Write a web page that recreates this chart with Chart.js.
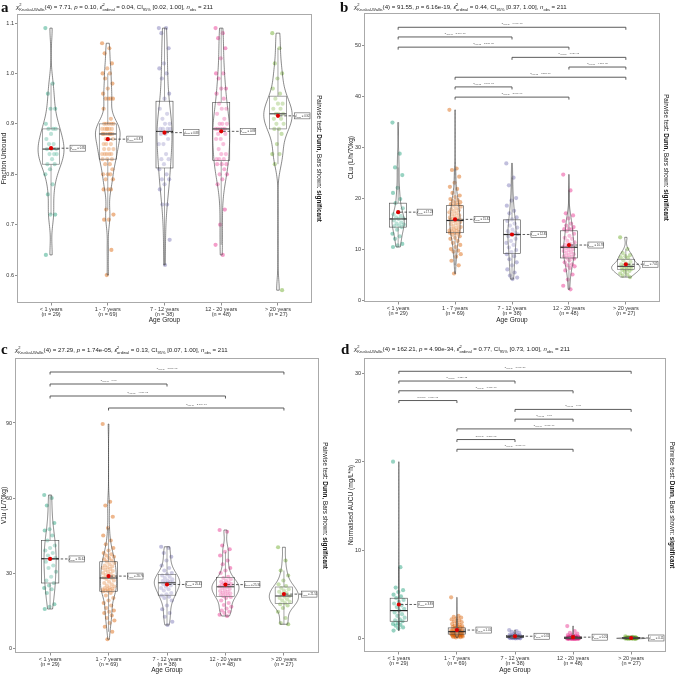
<!DOCTYPE html>
<html>
<head>
<meta charset="utf-8">
<script src="https://cdn.jsdelivr.net/npm/chart.js@4.4.1/dist/chart.umd.min.js"></script>
<style>
body { margin: 0; background: #fff; width: 676px; height: 674px; position: relative; overflow: hidden; }
canvas { position: absolute; }
</style>
</head>
<body>
<canvas id="ca" width="338" height="330" style="left:0;top:0"></canvas>
<canvas id="cb" width="338" height="330" style="left:338px;top:0"></canvas>
<canvas id="cc" width="338" height="344" style="left:0;top:330px"></canvas>
<canvas id="cd" width="338" height="344" style="left:338px;top:330px"></canvas>
<script>
// groups
var groups = ['< 1 years', '1 - 7 years', '7 - 12 years', '12 - 20 years', '> 20 years'];
var groupN = [29, 69, 38, 48, 27];
var groupColors = ['#1B9E77', '#D95F02', '#7570B3', '#E7298A', '#66A61E'];

// a: fraction unbound
var fuLt1 = [1.09, 0.98, 0.96, 0.93, 0.93, 0.90, 0.89, 0.89, 0.89, 0.88, 0.87, 0.86, 0.86, 0.85, 0.85, 0.85, 0.84, 0.84, 0.84, 0.83, 0.82, 0.82, 0.81, 0.80, 0.78, 0.76, 0.72, 0.72, 0.64];
var fu1to7 = [1.06, 1.05, 1.04, 1.02, 1.01, 1.00, 1.00, 0.99, 0.98, 0.97, 0.96, 0.95, 0.95, 0.95, 0.95, 0.93, 0.91,
  0.90, 0.90, 0.90, 0.90, 0.90, 0.89, 0.89, 0.89, 0.89, 0.89, 0.89, 0.88, 0.88, 0.88, 0.88, 0.88, 0.88, 0.88,
  0.87, 0.87, 0.87, 0.86, 0.86, 0.86, 0.85, 0.85, 0.85, 0.84, 0.84, 0.84, 0.84, 0.84, 0.83, 0.83, 0.83,
  0.82, 0.82, 0.81, 0.80, 0.80, 0.80, 0.79, 0.79, 0.77, 0.77, 0.77, 0.73, 0.72, 0.71, 0.71, 0.65, 0.60];
var fu7to12 = [1.09, 1.09, 1.08, 1.05, 1.02, 1.01, 1.00, 0.99, 0.96, 0.95, 0.93, 0.92, 0.91, 0.90, 0.90, 0.89, 0.89, 0.89, 0.89,
  0.88, 0.88, 0.87, 0.86, 0.86, 0.84, 0.83, 0.83, 0.82, 0.81, 0.80, 0.79, 0.79, 0.78, 0.77, 0.74, 0.74, 0.67, 0.62];
var fu12to20 = [1.09, 1.08, 1.07, 1.05, 1.03, 1.00, 1.00, 0.99, 0.97, 0.97, 0.96, 0.95, 0.94, 0.93, 0.93, 0.92, 0.91, 0.90,
  0.90, 0.90, 0.89, 0.89, 0.89, 0.89, 0.89, 0.88, 0.88, 0.87, 0.87, 0.86, 0.85, 0.84, 0.84, 0.83, 0.83, 0.83,
  0.82, 0.82, 0.82, 0.81, 0.80, 0.80, 0.79, 0.78, 0.73, 0.70, 0.66, 0.64];
var fuGt20 = [1.08, 1.05, 1.02, 1.00, 0.99, 0.97, 0.96, 0.95, 0.94, 0.94, 0.93, 0.93, 0.92, 0.92, 0.92, 0.91, 0.91, 0.90, 0.90,
  0.89, 0.89, 0.88, 0.86, 0.84, 0.84, 0.82, 0.57];
var fuTicks = [0.6, 0.7, 0.8, 0.9, 1.0, 1.1];

// b: CLu
var clLt1 = [34.8, 28.7, 26.0, 24.5, 22.0, 21.0, 19.8, 19.0, 18.0, 17.2, 16.8, 16.5, 16.2, 16.0, 15.9, 15.6, 15.2, 15.0, 14.8, 14.6, 14.5, 14.3, 13.8, 13.0, 12.5, 12.0, 11.0, 10.7, 10.4];
var cl1to7 = [37.3, 25.8, 25.5, 24.2, 23.0, 22.2, 21.8, 21.0, 20.5, 20.2, 19.8, 19.6, 19.4, 19.2, 19.0, 18.8, 18.7,
  18.5, 18.3, 18.0, 17.8, 17.6, 17.4, 17.2, 17.0, 16.8, 16.6, 16.4, 16.2, 16.0, 15.9, 15.8, 15.7, 15.7, 15.6,
  15.5, 15.3, 15.1, 14.9, 14.7, 14.5, 14.3, 14.1, 14.0, 13.9, 13.8, 13.6, 13.5, 13.4, 13.3, 13.2, 13.2,
  13.0, 12.8, 12.5, 12.2, 12.0, 11.6, 11.2, 10.8, 10.4, 10.0, 9.7, 9.5, 9.0, 8.5, 7.7, 6.8, 5.2];
var cl7to12 = [26.8, 24.0, 22.5, 20.0, 19.5, 18.5, 17.5, 17.0, 16.2, 15.8, 15.5, 15.0, 14.6, 14.2, 13.8, 13.5, 13.2, 13.0, 12.9,
  12.8, 12.5, 12.0, 11.6, 11.2, 10.8, 10.3, 9.8, 9.4, 9.0, 8.6, 8.0, 7.4, 6.8, 6.0, 5.4, 4.8, 4.4, 4.1];
var cl12to20 = [24.6, 21.5, 17.0, 16.6, 16.0, 15.5, 15.0, 14.6, 14.3, 14.0, 13.9, 13.8, 13.5, 13.0, 12.6, 12.2, 12.0, 11.6,
  11.3, 11.0, 10.8, 10.6, 10.5, 10.4, 10.3, 10.2, 10.0, 9.8, 9.6, 9.4, 9.2, 9.0, 8.8, 8.6, 8.4, 8.3,
  8.1, 7.8, 7.4, 7.0, 6.8, 6.6, 6.3, 5.8, 5.0, 4.0, 2.8, 2.1];
var clGt20 = [12.3, 10.0, 9.2, 8.8, 8.6, 8.4, 8.2, 7.8, 7.5, 7.2, 7.0, 6.9, 6.8, 6.6, 6.5, 6.4, 6.3, 6.2, 6.1, 6.0, 5.9, 5.7, 5.5, 5.2, 5.0, 4.8, 4.5];
var clTicks = [0, 10, 20, 30, 40, 50];
var clPairs = [[1, 5], [1, 3], [1, 4], [3, 5], [4, 5], [2, 5], [2, 3], [2, 4]];
var clPairY = [53.5, 51.6, 49.6, 47.6, 45.7, 43.7, 41.8, 39.8];
var clPairP = ['6.60e-13', '2.79e-03', '2.21e-05', '1.98e-03', '4.27e-02', '3.25e-11', '3.76e-03', '2.00e-07'];

// c: V1u
var vLt1 = [61.2, 60.0, 57.0, 50.0, 47.5, 47.0, 45.0, 43.0, 41.0, 40.0, 39.0, 38.0, 37.0, 36.0, 35.7, 34.5, 33.0, 32.0, 30.5, 28.5, 27.0, 26.0, 25.0, 24.0, 23.5, 22.0, 17.5, 16.5, 15.6];
var v1to7 = [89.6, 58.5, 57.0, 52.5, 48.0, 45.0, 43.0, 41.5, 40.0, 39.0, 38.0, 37.5, 37.0, 36.5, 36.0, 35.5, 35.0,
  34.5, 34.0, 33.5, 33.0, 32.6, 32.2, 32.0, 31.6, 31.2, 30.8, 30.4, 30.0, 29.6, 29.2, 28.8, 28.5, 28.2, 28.0,
  27.6, 27.0, 26.5, 26.0, 25.5, 25.0, 24.6, 24.2, 24.0, 23.8, 23.6, 23.4, 23.2, 23.0, 22.9, 22.8, 22.7,
  22.0, 21.0, 20.0, 19.0, 18.0, 17.0, 16.0, 15.0, 14.5, 14.0, 13.0, 12.0, 11.0, 10.0, 8.5, 6.5, 3.5];
var v7to12 = [40.5, 40.0, 38.0, 36.5, 35.0, 33.0, 32.0, 31.0, 30.0, 29.5, 29.0, 28.5, 28.0, 27.5, 27.0, 26.8, 26.5, 26.3, 26.2,
  26.0, 25.5, 25.0, 24.5, 24.0, 23.5, 23.0, 22.0, 21.5, 21.0, 20.5, 20.0, 19.0, 17.0, 15.5, 14.0, 12.5, 10.5, 9.2];
var v12to20 = [47.2, 46.5, 41.0, 39.5, 38.5, 37.0, 35.0, 33.5, 32.0, 31.0, 30.0, 28.5, 28.0, 27.5, 27.0, 26.5, 26.2, 25.9,
  25.6, 25.4, 25.2, 25.0, 24.8, 24.6, 24.4, 24.0, 23.6, 23.2, 22.8, 22.5, 22.2, 21.9, 21.6, 21.3, 21.0, 20.7,
  20.4, 20.0, 19.0, 18.0, 17.2, 16.5, 15.8, 15.0, 14.5, 14.0, 13.3, 12.8];
var vGt20 = [40.3, 35.0, 31.0, 29.0, 27.0, 25.5, 24.8, 24.0, 23.5, 23.0, 22.5, 22.0, 21.5, 20.8, 20.5, 20.0, 19.5, 19.0, 18.5, 18.0, 17.5, 17.0, 16.0, 14.5, 12.0, 10.0, 9.5];
var vTicks = [0, 30, 60, 90];
var vPairs = [[1, 5], [1, 3], [1, 4], [2, 5]];
var vPairY = [110.4, 105.6, 100.8, 96.0];
var vPairP = ['3.50e-05', '0.03', '4.00e-03', '2.17e-03'];

// d: normalised AUCU
var aucLt1 = [20.0, 8.1, 5.8, 5.5, 5.3, 5.0, 4.8, 4.6, 4.4, 4.2, 4.0, 3.8, 3.6, 3.4, 3.2, 3.0, 2.8, 2.6, 2.4, 2.2, 2.1, 2.0, 1.8, 1.7, 1.6, 1.5, 1.3, 1.2, 0.95];
var auc1to7 = [4.7, 2.6, 2.5, 2.4, 2.3, 2.2, 2.1, 2.0, 1.9, 1.8, 1.7, 1.6, 1.5, 1.45, 1.4, 1.35, 1.3,
  1.25, 1.2, 1.15, 1.1, 1.05, 1.0, 0.98, 0.96, 0.94, 0.92, 0.90, 0.88, 0.87, 0.86, 0.85, 0.84, 0.83, 0.82,
  0.80, 0.78, 0.76, 0.74, 0.72, 0.70, 0.68, 0.66, 0.64, 0.62, 0.61, 0.60, 0.59, 0.58, 0.57, 0.56,
  0.55, 0.52, 0.50, 0.48, 0.46, 0.44, 0.42, 0.40, 0.38, 0.36, 0.34, 0.32, 0.30, 0.28, 0.25, 0.22, 0.20, 0.18];
var auc7to12 = [1.0, 0.9, 0.8, 0.7, 0.6, 0.5, 0.45, 0.42, 0.40, 0.38, 0.36, 0.34, 0.32, 0.30, 0.29, 0.28, 0.27, 0.26, 0.25,
  0.24, 0.23, 0.22, 0.21, 0.20, 0.19, 0.18, 0.17, 0.16, 0.15, 0.14, 0.13, 0.12, 0.11, 0.10, 0.09, 0.08, 0.07, 0.06];
var auc12to20 = [1.45, 0.90, 0.70, 0.60, 0.50, 0.45, 0.40, 0.35, 0.30, 0.28, 0.26, 0.24, 0.22, 0.20, 0.19, 0.18, 0.17, 0.16,
  0.15, 0.14, 0.13, 0.13, 0.12, 0.12, 0.11, 0.11, 0.10, 0.10, 0.09, 0.09, 0.08, 0.08, 0.07, 0.07, 0.06, 0.06,
  0.05, 0.05, 0.05, 0.04, 0.04, 0.04, 0.03, 0.03, 0.03, 0.02, 0.02, 0.02];
var aucGt20 = [0.30, 0.25, 0.22, 0.20, 0.18, 0.16, 0.15, 0.14, 0.13, 0.12, 0.11, 0.10, 0.10, 0.09, 0.09, 0.08, 0.08, 0.07, 0.07, 0.06, 0.06, 0.05, 0.05, 0.04, 0.04, 0.03, 0.02];
var aucTicks = [0, 10, 20, 30];
var aucPairs = [[1, 5], [1, 3], [1, 4], [1, 2], [3, 5], [3, 4], [2, 5], [2, 3], [2, 4]];
var aucPairY = [30.2, 29.1, 28.0, 26.9, 25.9, 24.8, 23.7, 22.5, 21.4];
var aucPairP = ['3.03e-20', '1.78e-12', '1.78e-13', '1.56e-03', '0.03', '0.03', '3.68e-16', '3.27e-05', '3.08e-09'];

// test results shown in the subtitles
var kwStat = ['7.71', '91.55', '27.29', '162.21'];
var kwP = ['0.10', '6.16e-19', '1.74e-05', '4.90e-34'];
var epsSq = ['0.04', '0.44', '0.13', '0.77'];
var epsCI = ['[0.02, 1.00]', '[0.37, 1.00]', '[0.07, 1.00]', '[0.73, 1.00]'];
var nObs = 211;

var FAM = "'Liberation Sans', Arial, sans-serif";
Chart.defaults.font.family = FAM;
Chart.defaults.color = '#333';

function hexA(hex, a) {
  var n = parseInt(hex.slice(1), 16);
  return 'rgba(' + (n >> 16) + ',' + ((n >> 8) & 255) + ',' + (n & 255) + ',' + a + ')';
}

// fixed spread of points around the group centre
function jitter(i) {
  return (((i * 37) % 23) / 22 - 0.5) * 0.2;
}

function summarise(arr) {
  var s = arr.slice().sort(function(a, b) { return a - b; });
  var n = s.length;
  function q(p) {
    var h = (n - 1) * p, lo = Math.floor(h);
    var hi = Math.min(lo + 1, n - 1);
    return s[lo] + (h - lo) * (s[hi] - s[lo]);
  }
  var mean = s.reduce(function(a, b) { return a + b; }, 0) / n;
  var sd = Math.sqrt(s.reduce(function(a, b) { return a + (b - mean) * (b - mean); }, 0) / (n - 1));
  var q1 = q(0.25), q3 = q(0.75), iqr = q3 - q1;
  var wLo = s.filter(function(v) { return v >= q1 - 1.5 * iqr; })[0];
  var inside = s.filter(function(v) { return v <= q3 + 1.5 * iqr; });
  var wHi = inside[inside.length - 1];
  var bw = 0.9 * Math.min(sd, iqr > 0 ? iqr / 1.34 : sd) * Math.pow(n, -0.2);
  var grid = [], dens = [], dmax = 0;
  for (var k = 0; k <= 120; k++) {
    var y = s[0] + (s[n - 1] - s[0]) * k / 120, d = 0;
    for (var j = 0; j < n; j++) {
      var z = (y - s[j]) / bw;
      d += Math.exp(-0.5 * z * z);
    }
    d = d / (n * bw * Math.sqrt(2 * Math.PI));
    grid.push(y); dens.push(d);
    if (d > dmax) dmax = d;
  }
  return {mean: mean, q1: q1, med: q(0.5), q3: q3, wLo: wLo, wHi: wHi, grid: grid, dens: dens, dmax: dmax};
}

function fontFor(style, size) {
  return (style === 'i' ? 'italic ' : '') + (style === 'b' ? 'bold ' : '') + size + 'px ' + FAM;
}

// draws text made of pieces: normal, italic, bold, sub, or a stacked sup/sub
function rich(ctx, parts, size, x, y, align) {
  var small = size * 0.66, total = 0, items = [];
  parts.forEach(function(p) {
    if (p.sup !== undefined) {
      ctx.font = fontFor('', small);
      var w = Math.max(ctx.measureText(p.sup).width, ctx.measureText(p.sub).width);
      items.push({p: p, w: w}); total += w;
    } else {
      var sz = p.s === 'sub' ? small : size;
      ctx.font = fontFor(p.s, sz);
      var w2 = ctx.measureText(p.t).width;
      items.push({p: p, w: w2, sz: sz}); total += w2;
    }
  });
  var cx = align === 'center' ? x - total / 2 : x;
  ctx.textAlign = 'left';
  ctx.textBaseline = 'alphabetic';
  items.forEach(function(it) {
    var p = it.p;
    if (p.sup !== undefined) {
      ctx.font = fontFor('', small);
      ctx.fillText(p.sup, cx, y - size * 0.42);
      ctx.fillText(p.sub, cx, y + size * 0.3);
    } else {
      ctx.font = fontFor(p.s, it.sz);
      ctx.fillText(p.t, cx, p.s === 'sub' ? y + size * 0.3 : y);
    }
    cx += it.w;
  });
  return total;
}

function makePanel(id, cfg) {
  var st = cfg.data.map(summarise);
  var maxD = Math.max.apply(null, st.map(function(s) { return s.dmax; }));

  var datasets = cfg.data.map(function(arr, g) {
    return {
      data: arr.map(function(v, i) { return {x: g + 1 + jitter(i), y: v}; }),
      backgroundColor: hexA(groupColors[g], 0.45),
      pointRadius: 2.1, pointBorderWidth: 0, order: 1
    };
  });
  datasets.push({
    data: st.map(function(s, g) { return {x: g + 1, y: s.mean}; }),
    backgroundColor: '#dd0000', pointRadius: 2.1, pointBorderWidth: 0, order: 0
  });

  var plugin = {
    id: 'panel' + cfg.letter,
    beforeDatasetDraw: function(chart, args) {
      if (args.index !== 5) return;
      var ctx = chart.ctx, xs = chart.scales.x, ys = chart.scales.y;
      var unit = xs.getPixelForValue(2) - xs.getPixelForValue(1);
      ctx.save();
      st.forEach(function(s, g) {
        var cx = xs.getPixelForValue(g + 1);
        var bl = cx - 0.15 * unit, br = cx + 0.15 * unit;
        var yq1 = ys.getPixelForValue(s.q1), yq3 = ys.getPixelForValue(s.q3);
        // whiskers
        ctx.strokeStyle = '#444'; ctx.lineWidth = 0.6;
        ctx.beginPath();
        ctx.moveTo(cx, yq3); ctx.lineTo(cx, ys.getPixelForValue(s.wHi));
        ctx.moveTo(cx, yq1); ctx.lineTo(cx, ys.getPixelForValue(s.wLo));
        ctx.stroke();
        // box
        ctx.fillStyle = 'rgba(255,255,255,0.2)';
        ctx.fillRect(bl, yq3, br - bl, yq1 - yq3);
        ctx.strokeRect(bl, yq3, br - bl, yq1 - yq3);
        ctx.strokeStyle = '#222'; ctx.lineWidth = 1.2;
        ctx.beginPath();
        var ym = ys.getPixelForValue(s.med);
        ctx.moveTo(bl, ym); ctx.lineTo(br, ym);
        ctx.stroke();
        // violin
        ctx.beginPath();
        for (var k = 0; k < s.grid.length; k++) {
          ctx.lineTo(cx - 0.25 * unit * s.dens[k] / maxD, ys.getPixelForValue(s.grid[k]));
        }
        for (k = s.grid.length - 1; k >= 0; k--) {
          ctx.lineTo(cx + 0.25 * unit * s.dens[k] / maxD, ys.getPixelForValue(s.grid[k]));
        }
        ctx.closePath();
        ctx.fillStyle = 'rgba(255,255,255,0.2)';
        ctx.fill();
        ctx.strokeStyle = '#3a3a3a'; ctx.lineWidth = 0.6;
        ctx.stroke();
      });
      ctx.restore();
    },
    afterDatasetsDraw: function(chart) {
      var ctx = chart.ctx, xs = chart.scales.x, ys = chart.scales.y, ca = chart.chartArea;
      ctx.save();
      // mean labels
      st.forEach(function(s, g) {
        var px = xs.getPixelForValue(g + 1), py = ys.getPixelForValue(s.mean);
        var parts = [{t: 'μ̂', s: 'i'}, {t: 'mean', s: 'sub'}, {t: ' = ' + s.mean.toFixed(2)}];
        var w = 15.5, h = 6;
        var left = Math.min(px + 19, ca.right - w - 2);
        ctx.strokeStyle = '#333'; ctx.lineWidth = 0.8;
        ctx.setLineDash([2.5, 1.8]);
        ctx.beginPath(); ctx.moveTo(px + 2, py); ctx.lineTo(left, py); ctx.stroke();
        ctx.setLineDash([]);
        ctx.fillStyle = '#fff';
        ctx.fillRect(left, py - h / 2, w, h);
        ctx.strokeStyle = '#555'; ctx.lineWidth = 0.6;
        ctx.strokeRect(left, py - h / 2, w, h);
        ctx.fillStyle = '#333';
        rich(ctx, parts, 2.8, left + w / 2, py + 1, 'center');
      });
      // significance brackets
      (cfg.pairs || []).forEach(function(pr, i) {
        var xa = xs.getPixelForValue(pr[0]), xb = xs.getPixelForValue(pr[1]);
        var yy = ys.getPixelForValue(cfg.pairY[i]);
        ctx.strokeStyle = '#4a4a4a'; ctx.lineWidth = 0.9;
        ctx.beginPath();
        ctx.moveTo(xa, yy + 2.5); ctx.lineTo(xa, yy); ctx.lineTo(xb, yy); ctx.lineTo(xb, yy + 2.5);
        ctx.stroke();
        ctx.fillStyle = '#555';
        rich(ctx, [{t: 'p', s: 'i'}, {t: 'Holm-adj', s: 'sub'}, {t: ' = ' + cfg.pairP[i]}], 2.5, (xa + xb) / 2, yy - 3, 'center');
      });
      // panel border
      ctx.strokeStyle = '#aaaaaa'; ctx.lineWidth = 1;
      ctx.strokeRect(ca.left + 0.5, ca.top + 0.5, ca.right - ca.left - 1, ca.bottom - ca.top - 1);
      ctx.restore();
    },
    afterDraw: function(chart) {
      var ctx = chart.ctx, ca = chart.chartArea, i = cfg.idx;
      ctx.save();
      ctx.fillStyle = '#111';
      ctx.font = 'bold 15px "Liberation Serif", serif';
      ctx.textAlign = 'left'; ctx.textBaseline = 'alphabetic';
      ctx.fillText(cfg.letter, cfg.letterX, cfg.letterY);
      ctx.fillStyle = '#222';
      rich(ctx, [
        {t: 'χ', s: 'i'}, {sup: '2', sub: 'Kruskal-Wallis'}, {t: '(4) = ' + kwStat[i] + ', '},
        {t: 'p', s: 'i'}, {t: ' = ' + kwP[i] + ', '},
        {t: 'ε̂', s: 'i'}, {sup: '2', sub: 'ordinal'}, {t: ' = ' + epsSq[i] + ', CI'}, {t: '95%', s: 'sub'},
        {t: ' ' + epsCI[i] + ', '}, {t: 'n', s: 'i'}, {t: 'obs', s: 'sub'}, {t: ' = ' + nObs}
      ], 6.1, cfg.titleX, cfg.titleY, 'left');
      // axis titles
      ctx.fillStyle = '#222';
      ctx.font = '6.5px ' + FAM;
      ctx.textAlign = 'center'; ctx.textBaseline = 'alphabetic';
      ctx.fillText('Age Group', (ca.left + ca.right) / 2, cfg.xTitleY);
      ctx.save();
      ctx.translate(cfg.yTitleX, (ca.top + ca.bottom) / 2);
      ctx.rotate(-Math.PI / 2);
      ctx.textBaseline = 'middle';
      ctx.fillText(cfg.yTitle, 0, 0);
      ctx.restore();
      // caption on the right
      ctx.save();
      ctx.translate(cfg.capX, (ca.top + ca.bottom) / 2);
      ctx.rotate(Math.PI / 2);
      ctx.fillStyle = '#111';
      rich(ctx, [{t: 'Pairwise test: '}, {t: 'Dunn', s: 'b'}, {t: ', Bars shown: '}, {t: 'significant', s: 'b'}], 6.3, 0, 2.2, 'center');
      ctx.restore();
      ctx.restore();
    }
  };

  return new Chart(document.getElementById(id), {
    type: 'scatter',
    data: {datasets: datasets},
    options: {
      responsive: false,
      animation: false,
      layout: {padding: {left: 0, top: cfg.padT, right: cfg.padR, bottom: 0}},
      plugins: {legend: {display: false}, tooltip: {enabled: false}},
      scales: {
        x: {
          type: 'linear', min: 0.4, max: 5.6,
          afterBuildTicks: function(s) { s.ticks = [1, 2, 3, 4, 5].map(function(v) { return {value: v}; }); },
          afterFit: function(s) { s.height = cfg.xH; },
          ticks: {
            autoSkip: false, maxRotation: 0, padding: 1, color: '#333',
            font: {size: 5.5, lineHeight: 0.95},
            callback: function(v) { return [groups[v - 1], '(n = ' + groupN[v - 1] + ')']; }
          },
          grid: {drawOnChartArea: false, tickLength: 2.5, color: '#444', lineWidth: 0.6},
          border: {display: false}
        },
        y: {
          min: cfg.yMin, max: cfg.yMax,
          afterBuildTicks: function(s) { s.ticks = cfg.yTicks.map(function(v) { return {value: v}; }); },
          afterFit: function(s) { s.width = cfg.yW; },
          ticks: {
            padding: 1, color: '#333', font: {size: 5.5},
            callback: function(v) { return cfg.tickFmt(v); }
          },
          grid: {drawOnChartArea: false, tickLength: 2, color: '#444', lineWidth: 0.6},
          border: {display: false}
        }
      }
    },
    plugins: [plugin]
  });
}

makePanel('ca', {
  idx: 0, letter: 'a', data: [fuLt1, fu1to7, fu7to12, fu12to20, fuGt20],
  yMin: 0.5446, yMax: 1.118, yTicks: fuTicks, tickFmt: function(v) { return v.toFixed(1); },
  yTitle: 'Fraction Unbound',
  padT: 14, padR: 26, yW: 17, xH: 27,
  letterX: 1, letterY: 12, titleX: 16, titleY: 9, xTitleY: 322, yTitleX: 4, capX: 319
});
makePanel('cb', {
  idx: 1, letter: 'b', data: [clLt1, cl1to7, cl7to12, cl12to20, clGt20],
  yMin: -0.39, yMax: 56.3, yTicks: clTicks, tickFmt: function(v) { return String(v); },
  yTitle: 'CLu (L/h/70kg)', pairs: clPairs, pairY: clPairY, pairP: clPairP,
  padT: 13, padR: 16, yW: 26, xH: 28,
  letterX: 2, letterY: 12, titleX: 16, titleY: 9, xTitleY: 322, yTitleX: 13, capX: 328
});
makePanel('cc', {
  idx: 2, letter: 'c', data: [vLt1, v1to7, v7to12, v12to20, vGt20],
  yMin: -2, yMax: 116, yTicks: vTicks, tickFmt: function(v) { return String(v); },
  yTitle: 'V1u (L/70kg)', pairs: vPairs, pairY: vPairY, pairP: vPairP,
  padT: 28, padR: 19, yW: 15, xH: 21,
  letterX: 1, letterY: 24, titleX: 15, titleY: 22, xTitleY: 342, yTitleX: 4, capX: 325
});
makePanel('cd', {
  idx: 3, letter: 'd', data: [aucLt1, auc1to7, auc7to12, auc12to20, aucGt20],
  yMin: -1.47, yMax: 31.7, yTicks: aucTicks, tickFmt: function(v) { return String(v); },
  yTitle: 'Normalised AUCU (mg/L*h)', pairs: aucPairs, pairY: aucPairY, pairP: aucPairP,
  padT: 28, padR: 10, yW: 26, xH: 22,
  letterX: 3, letterY: 24, titleX: 16, titleY: 21, xTitleY: 342, yTitleX: 13, capX: 334
});
</script>
</body>
</html>
